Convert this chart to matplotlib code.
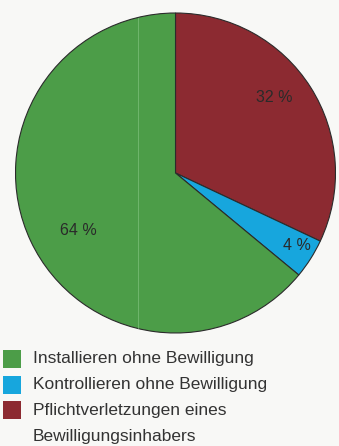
import matplotlib.pyplot as plt
from matplotlib.patches import Rectangle

labels = ["Pflichtverletzungen eines\nBewilligungsinhabers",
          "Kontrollieren ohne Bewilligung",
          "Installieren ohne Bewilligung"]
shares = [32, 4, 64]
colors = ["#8c2a31", "#17a6dd", "#4c9d48"]
pct_text = ["32 %", "4 %", "64 %"]
pct_pos = [(0.62, 0.475), (0.76, -0.45), (-0.61, -0.36)]

plt.rcParams['font.family'] = ['Liberation Sans', 'DejaVu Sans']

fig = plt.figure(figsize=(3.39, 4.46), dpi=100)
fig.patch.set_facecolor("#f8f8f6")

# pie centre ~ (175.5, 173) px, radius ~160 px
ax = fig.add_axes([15.5 / 339, 113 / 446, 320 / 339, 320 / 446])
ax.pie(shares, colors=colors, startangle=90, counterclock=False,
       wedgeprops=dict(edgecolor="#2b2b2b", linewidth=0.8))
ax.set_xlim(-1, 1)
ax.set_ylim(-1, 1)
ax.set_aspect("equal")
ax.axis("off")

# faint scan line through the green slice
ax.plot([-0.234, -0.234], [-0.97, 0.97], color="#86c784", lw=0.6, alpha=0.7)

for txt, (x, y) in zip(pct_text, pct_pos):
    ax.text(x, y, txt, ha="center", va="center", fontsize=11.5,
            color="#2a2a2a")

# legend, drawn by hand (green, blue, red from top)
rows_y = [358.5, 385, 410]
for (lab, col), yc in zip(reversed(list(zip(labels, colors))), rows_y):
    fig.patches.append(Rectangle((3 / 339, 1 - (yc + 9) / 446), 18 / 339, 18 / 446,
                                 transform=fig.transFigure, facecolor=col,
                                 edgecolor="none"))
    first, *rest = lab.split("\n")
    fig.text(33 / 339, 1 - yc / 446, first, ha="left", va="center",
             fontsize=12.5, color="#333333")
    for k, line in enumerate(rest, start=1):
        fig.text(33 / 339, 1 - (yc + 26 * k) / 446, line, ha="left", va="center",
                 fontsize=12.5, color="#333333")

fig.savefig("out.png", dpi=100, facecolor=fig.get_facecolor())
